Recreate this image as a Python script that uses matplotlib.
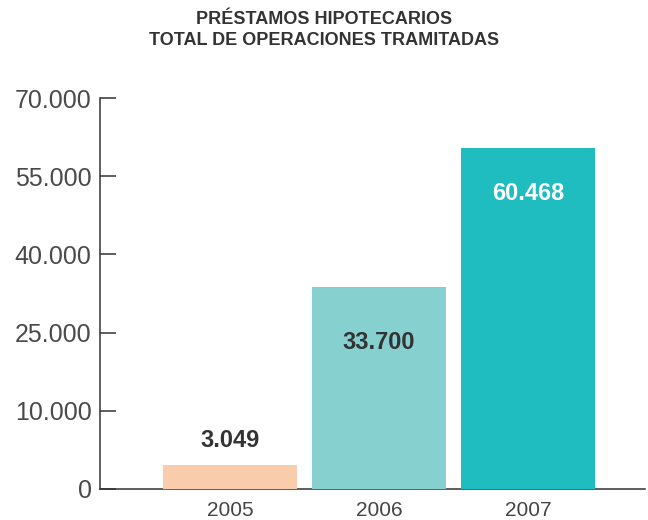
import numpy as np
import matplotlib
matplotlib.use('Agg')
import matplotlib.pyplot as plt

# data
years = ['2005', '2006', '2007']
operaciones = [3049, 33700, 60468]
value_labels = ['3.049', '33.700', '60.468']
ytick_vals = [0, 10000, 25000, 40000, 55000, 70000]
ytick_labels = ['0', '10.000', '25.000', '40.000', '55.000', '70.000']

bar_colors = ['#F9CDAB', '#86D0D0', '#1FBDC0']
label_colors = ['#333333', '#333333', '#FFFFFF']
label_offsets = [18, -40, -33]  # points from bar top

plt.rcParams['font.family'] = ['Liberation Sans', 'DejaVu Sans']


# the original axis is piecewise: 0-10.000 takes one step, then 15.000 per step
def fwd(v):
    v = np.asarray(v, dtype=float)
    return np.where(v < 10000, v / 10000.0, 1 + (v - 10000) / 15000.0)


def inv(u):
    u = np.asarray(u, dtype=float)
    return np.where(u < 1, u * 10000.0, 10000 + (u - 1) * 15000.0)


fig = plt.figure(figsize=(6.48, 5.2), dpi=100)
ax = fig.add_axes([100 / 648, 1 - 489 / 520, 545 / 648, 391 / 520])

xpos = np.arange(len(years))
bars = ax.bar(xpos, operaciones, width=0.9, color=bar_colors, zorder=1)

ax.set_yscale('function', functions=(fwd, inv))
ax.set_ylim(0, 70000)
ax.set_xlim(-0.872, 2.785)

for i, b in enumerate(bars):
    ax.annotate(value_labels[i], (b.get_x() + b.get_width() / 2, b.get_height()),
                xytext=(0, label_offsets[i]), textcoords='offset points',
                ha='center', va='center', fontsize=17, fontweight='bold',
                color=label_colors[i])

ax.set_yticks(ytick_vals)
ax.set_yticklabels(ytick_labels)
ax.yaxis.set_minor_locator(matplotlib.ticker.NullLocator())
ax.tick_params(axis='y', direction='in', length=11.5, width=1.1, color='#333333',
               labelsize=18, labelcolor='#4a4a4a', pad=6)

ax.set_xticks(xpos)
ax.set_xticklabels(years)
ax.tick_params(axis='x', length=0, labelsize=15, labelcolor='#444444', pad=9)

for s in ['top', 'right']:
    ax.spines[s].set_visible(False)
for s in ['left', 'bottom']:
    ax.spines[s].set_linewidth(1.1)
    ax.spines[s].set_color('#333333')
    ax.spines[s].set_zorder(0)

fig.text(0.5, 1 - 19 / 520, 'PRÉSTAMOS HIPOTECARIOS', ha='center', va='center',
         fontsize=13, fontweight='bold', color='#333333')
fig.text(0.5, 1 - 41 / 520, 'TOTAL DE OPERACIONES TRAMITADAS', ha='center', va='center',
         fontsize=13, fontweight='bold', color='#333333')

fig.savefig('out.png', dpi=100)
